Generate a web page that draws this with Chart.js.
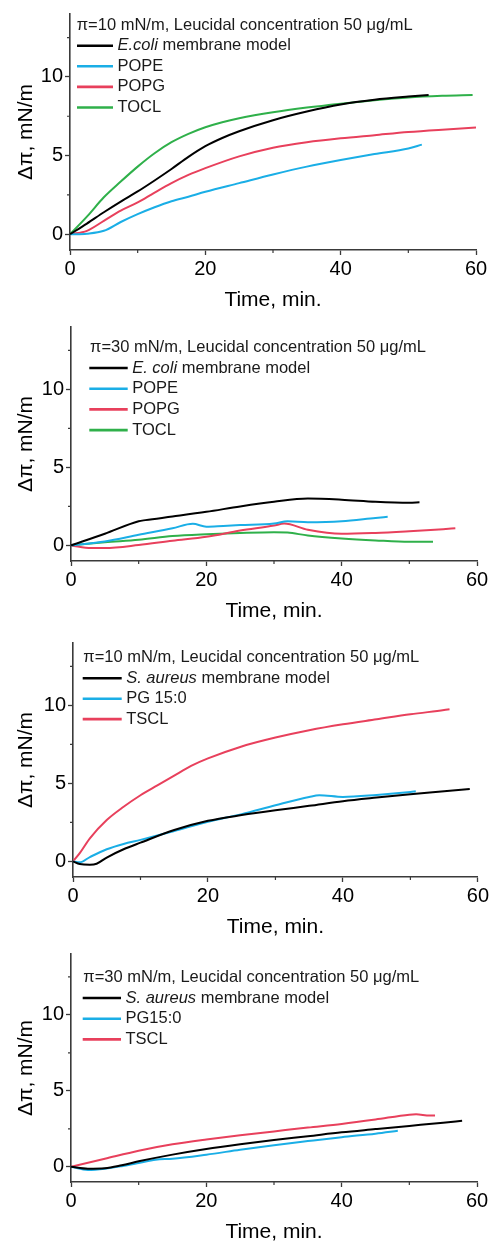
<!DOCTYPE html>
<html>
<head>
<meta charset="utf-8">
<script src="https://cdn.jsdelivr.net/npm/chart.js@4.4.1/dist/chart.umd.min.js"></script>
<style>
  html, body { margin: 0; padding: 0; background: #fff; overflow: hidden; width: 491px; height: 1243px; }
  .panel { position: absolute; left: 0; width: 491px; }
  canvas { display: block; }
</style>
</head>
<body>
<div class="panel" id="p1" style="top:0px"><canvas id="c1" width="491" height="313"></canvas></div>
<div class="panel" id="p2" style="top:313px"><canvas id="c2" width="491" height="311"></canvas></div>
<div class="panel" id="p3" style="top:624px"><canvas id="c3" width="491" height="316"></canvas></div>
<div class="panel" id="p4" style="top:940px"><canvas id="c4" width="491" height="305"></canvas></div>
<script>
// ---------- tick values ----------
const xMajorTicks = [0, 20, 40, 60];
const xMinorTicks = [10, 30, 50];
const yMajorTicks = [0, 5, 10];
const yMinorTicks = [2.5, 7.5, 12.5];

// ---------- Panel 1: pi = 10 mN/m, E. coli ----------
const p1Header = 'π=10 mN/m, Leucidal concentration 50 μg/mL';
const p1Labels = ['E.coli membrane model', 'POPE', 'POPG', 'TOCL'];
const p1Italic = ['E.coli', '', '', ''];
const p1EcoliT = [0, 2.5, 5, 7.5, 10, 12.5, 15, 17.5, 20, 22.5, 25, 30, 35, 40, 45, 50, 53];
const p1EcoliV = [0, 0.68, 1.4, 2.08, 2.72, 3.42, 4.15, 4.92, 5.6, 6.12, 6.55, 7.25, 7.8, 8.25, 8.55, 8.75, 8.85];
const p1PopeT = [0, 2.5, 5, 7.5, 10, 12.5, 15, 17.5, 20, 25, 30, 35, 40, 45, 50, 52];
const p1PopeV = [0, 0.04, 0.22, 0.78, 1.28, 1.72, 2.1, 2.39, 2.7, 3.25, 3.8, 4.3, 4.72, 5.1, 5.45, 5.7];
const p1PopgT = [0, 2.5, 5, 7.5, 10, 12.5, 15, 17.5, 20, 25, 30, 35, 40, 45, 50, 55, 60];
const p1PopgV = [0, 0.22, 0.85, 1.5, 2.02, 2.65, 3.25, 3.77, 4.2, 4.95, 5.5, 5.85, 6.1, 6.3, 6.5, 6.65, 6.78];
const p1ToclT = [0, 2.5, 5, 7.5, 10, 12.5, 15, 17.5, 20, 22.5, 25, 30, 35, 40, 45, 50, 55, 59.5];
const p1ToclV = [0, 1.12, 2.35, 3.35, 4.3, 5.15, 5.85, 6.38, 6.8, 7.12, 7.37, 7.75, 8.05, 8.3, 8.52, 8.7, 8.8, 8.85];

// ---------- Panel 2: pi = 30 mN/m, E. coli ----------
const p2Header = 'π=30 mN/m, Leucidal concentration 50 μg/mL';
const p2Labels = ['E. coli membrane model', 'POPE', 'POPG', 'TOCL'];
const p2Italic = ['E. coli', '', '', ''];
const p2EcoliT = [0, 5, 10, 11, 15, 20, 25, 30, 35, 40, 45, 50, 51.5];
const p2EcoliV = [0, 0.75, 1.55, 1.62, 1.85, 2.15, 2.5, 2.8, 3.0, 2.93, 2.8, 2.74, 2.76];
const p2PopeT = [0, 5, 10, 15, 18, 20, 22.5, 25, 30, 32, 35, 40, 45, 46.8];
const p2PopeV = [0, 0.25, 0.68, 1.1, 1.38, 1.2, 1.25, 1.3, 1.4, 1.55, 1.49, 1.55, 1.76, 1.83];
const p2PopgT = [0, 3, 5, 10, 15, 20, 25, 30, 31.5, 35, 40, 45, 50, 55, 56.8];
const p2PopgV = [0, -0.17, -0.17, 0.02, 0.3, 0.55, 0.95, 1.27, 1.4, 1.0, 0.74, 0.8, 0.91, 1.04, 1.1];
const p2ToclT = [0, 5, 10, 15, 20, 25, 30, 32, 35, 40, 45, 50, 53.5];
const p2ToclV = [0, 0.2, 0.36, 0.6, 0.72, 0.8, 0.85, 0.82, 0.64, 0.45, 0.32, 0.23, 0.23];

// ---------- Panel 3: pi = 10 mN/m, S. aureus ----------
const p3Header = 'π=10 mN/m, Leucidal concentration 50 μg/mL';
const p3Labels = ['S. aureus membrane model', 'PG 15:0', 'TSCL'];
const p3Italic = ['S. aureus', '', ''];
const p3SaurT = [0, 1, 2.5, 3.5, 5, 7.5, 10, 15, 20, 25, 30, 35, 40, 45, 50, 55, 58.8];
const p3SaurV = [0, -0.17, -0.21, -0.15, 0.25, 0.78, 1.2, 2.01, 2.6, 2.97, 3.28, 3.56, 3.86, 4.09, 4.3, 4.49, 4.64];
const p3PgT = [0, 1, 2.5, 5, 7.5, 10, 15, 20, 25, 30, 35, 36.5, 40, 45, 50, 50.8];
const p3PgV = [0, -0.06, 0.28, 0.78, 1.12, 1.38, 1.95, 2.54, 3.03, 3.6, 4.13, 4.24, 4.13, 4.26, 4.45, 4.49];
const p3TsclT = [0, 1, 2.5, 5, 7.5, 10, 12.5, 15, 17.5, 20, 25, 30, 35, 40, 45, 50, 55, 55.8];
const p3TsclV = [0, 0.53, 1.48, 2.65, 3.5, 4.24, 4.87, 5.5, 6.12, 6.6, 7.37, 7.94, 8.41, 8.79, 9.11, 9.43, 9.7, 9.75];

// ---------- Panel 4: pi = 30 mN/m, S. aureus ----------
const p4Header = 'π=30 mN/m, Leucidal concentration 50 μg/mL';
const p4Labels = ['S. aureus membrane model', 'PG15:0', 'TSCL'];
const p4Italic = ['S. aureus', '', ''];
const p4SaurT = [0, 2.5, 5, 7.5, 10, 15, 20, 25, 30, 35, 40, 45, 50, 55, 57.8];
const p4SaurV = [0, -0.13, -0.1, 0.1, 0.36, 0.8, 1.17, 1.48, 1.76, 2.01, 2.27, 2.48, 2.69, 2.9, 3.03];
const p4PgT = [0, 2.5, 5, 7.5, 10, 12.5, 15, 20, 25, 30, 35, 40, 45, 48.3];
const p4PgV = [0, -0.21, -0.13, 0.04, 0.25, 0.47, 0.53, 0.8, 1.12, 1.42, 1.69, 1.95, 2.18, 2.37];
const p4TsclT = [0, 5, 10, 15, 20, 25, 30, 35, 40, 45, 50, 51, 53, 53.8];
const p4TsclV = [0, 0.53, 1.06, 1.48, 1.8, 2.08, 2.33, 2.58, 2.82, 3.11, 3.43, 3.45, 3.37, 3.37];

// ---------- styles ----------
const BLACK = '#000000', BLUE = '#1aaee6', RED = '#e8405c', GREEN = '#2fb04a';
const FONT = '"Liberation Sans", Arial, Helvetica, sans-serif';
const AXIS = '#3a3a3a';

function pts(t, v) { return t.map((x, i) => ({ x: x, y: v[i] })); }

const insetLegend = {
  id: 'insetLegend',
  afterDraw(chart, args, o) {
    const { ctx, chartArea: ca } = chart;
    ctx.save();
    ctx.textBaseline = 'middle';
    ctx.textAlign = 'left';
    ctx.fillStyle = '#1a1a1a';
    ctx.font = `${o.size}px ${FONT}`;
    ctx.fillText(o.header, ca.left + o.hx, ca.top + o.hy);
    chart.data.datasets.forEach((ds, i) => {
      const y = ca.top + o.ry + i * o.gap;
      ctx.strokeStyle = ds.borderColor;
      ctx.lineWidth = 2.6;
      ctx.beginPath();
      ctx.moveTo(ca.left + o.lx, y);
      ctx.lineTo(ca.left + o.lx + o.len, y);
      ctx.stroke();
      let x = ca.left + o.lx + o.len + 4.5;
      const it = ds.italicPart || '';
      if (it) {
        ctx.font = `italic ${o.size}px ${FONT}`;
        ctx.fillText(it, x, y);
        x += ctx.measureText(it).width;
      }
      ctx.font = `${o.size}px ${FONT}`;
      ctx.fillText(ds.label.slice(it.length), x, y);
    });
    ctx.restore();
  }
};

const minorTicks = {
  id: 'minorTicks',
  afterDraw(chart) {
    const { ctx, chartArea: ca, scales } = chart;
    ctx.save();
    ctx.strokeStyle = AXIS;
    ctx.lineWidth = 1.2;
    ctx.beginPath();
    xMinorTicks.forEach(v => {
      const px = scales.x.getPixelForValue(v);
      ctx.moveTo(px, ca.bottom); ctx.lineTo(px, ca.bottom + 3);
    });
    yMinorTicks.forEach(v => {
      const py = scales.y.getPixelForValue(v);
      ctx.moveTo(ca.left, py); ctx.lineTo(ca.left - 3, py);
    });
    ctx.stroke();
    ctx.restore();
  }
};

function makeChart(id, cfg) {
  const datasets = cfg.series.map(s => ({
    label: s.label,
    italicPart: s.italic,
    data: pts(s.t, s.v),
    borderColor: s.color,
    backgroundColor: s.color,
    borderWidth: 2,
    pointRadius: 0,
    fill: false,
    cubicInterpolationMode: 'monotone'
  }));
  return new Chart(document.getElementById(id), {
    type: 'line',
    data: { datasets },
    plugins: [insetLegend, minorTicks],
    options: {
      responsive: false,
      animation: false,
      events: [],
      layout: { padding: { top: cfg.padTop, right: cfg.padRight, bottom: 0, left: 0 } },
      plugins: {
        legend: { display: false },
        tooltip: { enabled: false },
        insetLegend: Object.assign({ header: cfg.header, size: 16.5 }, cfg.legend)
      },
      scales: {
        x: {
          type: 'linear', min: 0, max: 60,
          afterBuildTicks: s => { s.ticks = xMajorTicks.map(v => ({ value: v })); },
          afterFit: s => { s.height = 63; },
          grid: { display: true, drawOnChartArea: false, drawTicks: true, tickLength: 5, color: AXIS, tickColor: AXIS, tickWidth: 1.3 },
          border: { display: true, color: AXIS, width: 1.6 },
          ticks: { color: '#000', font: { family: FONT, size: 20 }, padding: 2, maxRotation: 0, autoSkip: false },
          title: { display: true, text: 'Time, min.', color: '#000', font: { family: FONT, size: 21 }, padding: { top: 0, bottom: 0 } }
        },
        y: {
          type: 'linear', min: -1, max: 14,
          afterBuildTicks: s => { s.ticks = yMajorTicks.map(v => ({ value: v })); },
          afterFit: s => { s.width = cfg.left; },
          grid: { display: true, drawOnChartArea: false, drawTicks: true, tickLength: 5, color: AXIS, tickColor: AXIS, tickWidth: 1.3 },
          border: { display: true, color: AXIS, width: 1.6 },
          ticks: { color: '#000', font: { family: FONT, size: 20 }, padding: 2 },
          title: { display: true, text: 'Δπ, mN/m', color: '#000', font: { family: FONT, size: 21 }, padding: { top: 14, bottom: 0 } }
        }
      }
    }
  });
}

makeChart('c1', {
  header: p1Header, padTop: 14, padRight: 15, left: 70,
  legend: { hx: 6.7, hy: 11, ry: 31.7, gap: 20.6, lx: 7, len: 36 },
  series: [
    { label: p1Labels[0], italic: p1Italic[0], t: p1EcoliT, v: p1EcoliV, color: BLACK },
    { label: p1Labels[1], italic: p1Italic[1], t: p1PopeT, v: p1PopeV, color: BLUE },
    { label: p1Labels[2], italic: p1Italic[2], t: p1PopgT, v: p1PopgV, color: RED },
    { label: p1Labels[3], italic: p1Italic[3], t: p1ToclT, v: p1ToclV, color: GREEN }
  ]
});
makeChart('c2', {
  header: p2Header, padTop: 11, padRight: 14, left: 71,
  legend: { hx: 19, hy: 20, ry: 41, gap: 20.7, lx: 18.3, len: 38.4 },
  series: [
    { label: p2Labels[0], italic: p2Italic[0], t: p2EcoliT, v: p2EcoliV, color: BLACK },
    { label: p2Labels[1], italic: p2Italic[1], t: p2PopeT, v: p2PopeV, color: BLUE },
    { label: p2Labels[2], italic: p2Italic[2], t: p2PopgT, v: p2PopgV, color: RED },
    { label: p2Labels[3], italic: p2Italic[3], t: p2ToclT, v: p2ToclV, color: GREEN }
  ]
});
makeChart('c3', {
  header: p3Header, padTop: 19, padRight: 12, left: 73,
  legend: { hx: 10.3, hy: 14.3, ry: 35.3, gap: 20.4, lx: 9.7, len: 39 },
  series: [
    { label: p3Labels[0], italic: p3Italic[0], t: p3SaurT, v: p3SaurV, color: BLACK },
    { label: p3Labels[1], italic: p3Italic[1], t: p3PgT, v: p3PgV, color: BLUE },
    { label: p3Labels[2], italic: p3Italic[2], t: p3TsclT, v: p3TsclV, color: RED }
  ]
});
makeChart('c4', {
  header: p4Header, padTop: 7, padRight: 14, left: 71,
  legend: { hx: 12.3, hy: 23.7, ry: 44, gap: 20.7, lx: 11.7, len: 38.3 },
  series: [
    { label: p4Labels[0], italic: p4Italic[0], t: p4SaurT, v: p4SaurV, color: BLACK },
    { label: p4Labels[1], italic: p4Italic[1], t: p4PgT, v: p4PgV, color: BLUE },
    { label: p4Labels[2], italic: p4Italic[2], t: p4TsclT, v: p4TsclV, color: RED }
  ]
});
</script>
</body>
</html>
